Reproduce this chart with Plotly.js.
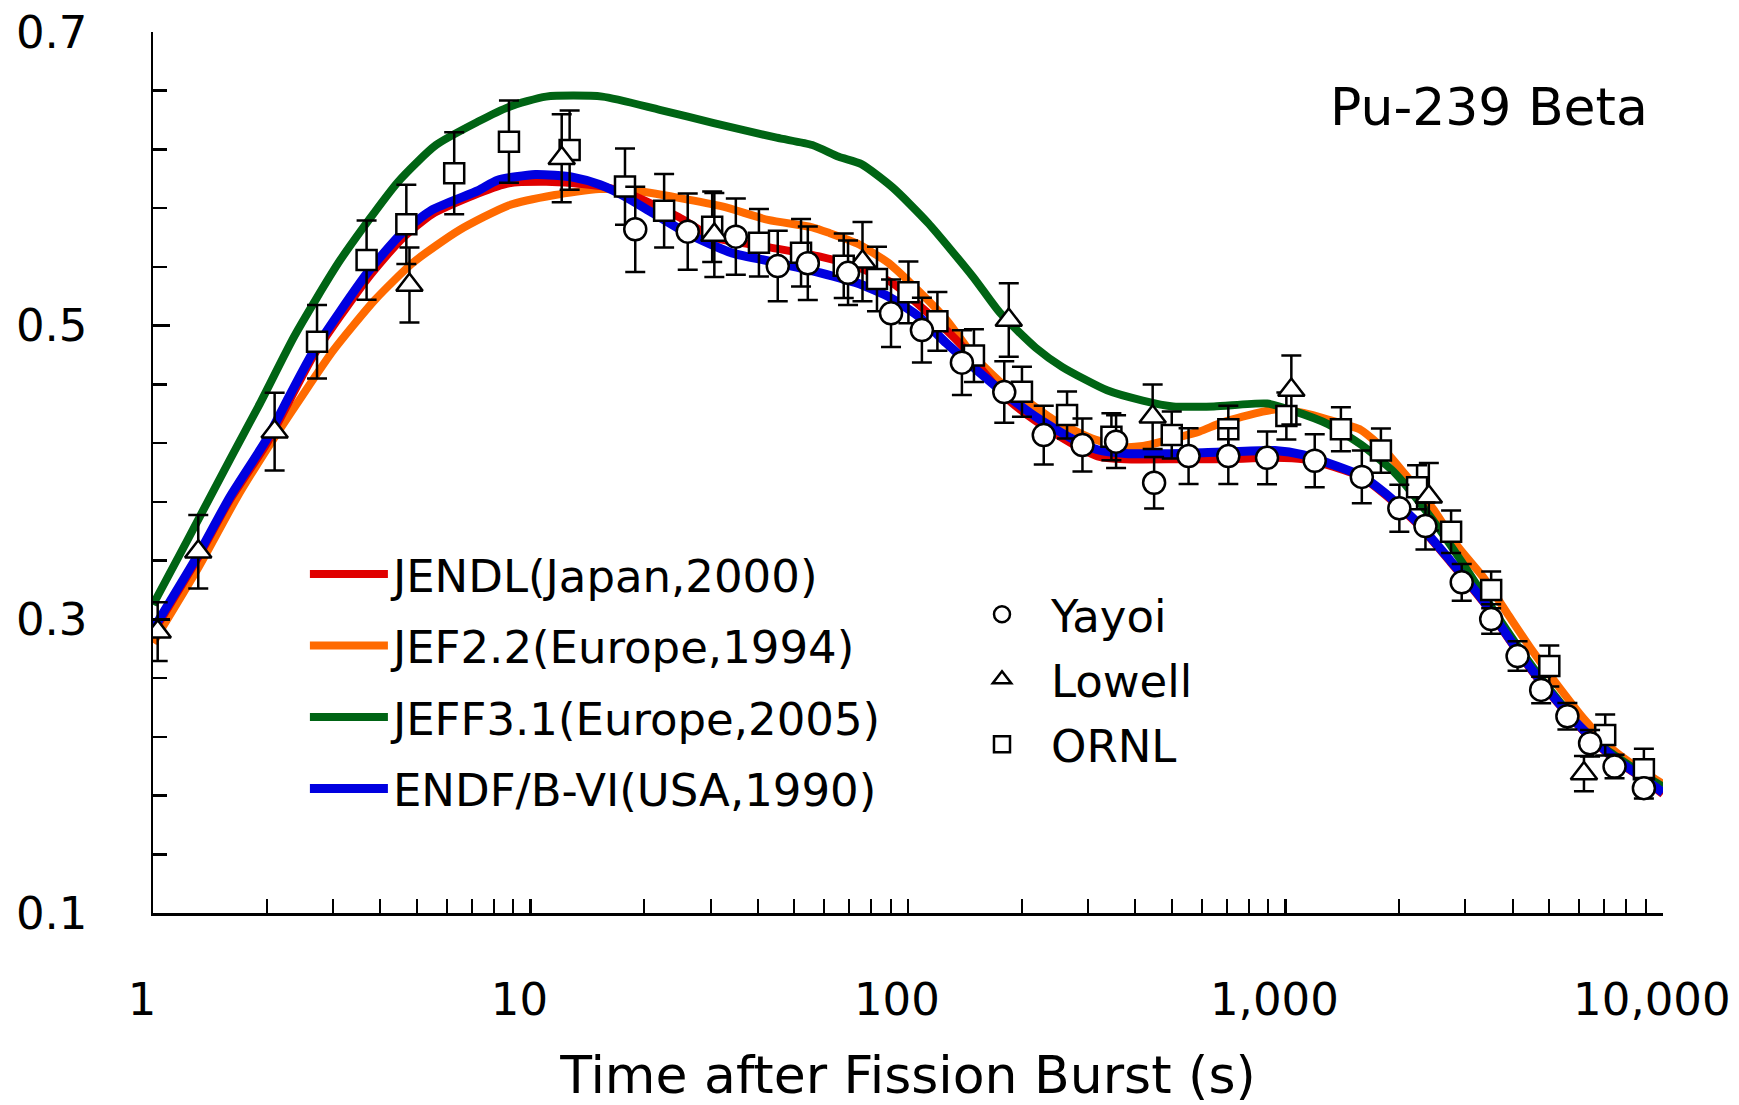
<!DOCTYPE html>
<html><head><meta charset="utf-8">
<script src="https://cdn.plot.ly/plotly-3.0.1.min.js"></script>
<style>html,body{margin:0;padding:0;background:#fff;} #chart{width:1739px;height:1105px;}</style>
</head><body><div id="chart"></div>
<script>
const FONT = 'DejaVu Sans, sans-serif';

// ---- Calculated curves (time s, beta decay heat ratio) ----
const jendlT = [1, 1.324, 1.596, 2.016, 2.67, 3.70, 4.56, 5.50, 7.27, 8.77, 11, 13, 15.3, 17.8, 24.7, 30.6, 42.6, 58.6, 73.3, 91, 113, 140, 180, 218, 270, 318, 376, 530, 679, 938, 1117, 1297, 1585, 1835, 2244, 2735, 3336, 4068, 4956, 6050, 7395, 8790, 10000];
const jendlV = [0.291, 0.343, 0.381, 0.421, 0.480, 0.532, 0.559, 0.576, 0.590, 0.597, 0.598, 0.597, 0.595, 0.591, 0.574, 0.560, 0.5535, 0.547, 0.540, 0.529, 0.5086, 0.4855, 0.452, 0.435, 0.420, 0.411, 0.409, 0.409, 0.409, 0.410, 0.409, 0.405, 0.397, 0.385, 0.3646, 0.339, 0.312, 0.280, 0.251, 0.226, 0.205, 0.192, 0.181];

const jef22T = [1, 1.324, 1.669, 2.016, 2.48, 3.0, 3.87, 4.89, 6.47, 8.77, 11.6, 15.2, 18.8, 24.7, 32.4, 42.6, 55.8, 62.1, 73.3, 88.5, 101.6, 126.5, 148.7, 175, 206, 243, 302, 366, 419, 521, 593, 679, 871, 961, 1117, 1297, 1585, 1835, 2134, 2473, 2875, 3336, 3872, 4500, 5210, 6220, 7395, 8790, 10000];
const jef22V = [0.284, 0.336, 0.383, 0.417, 0.452, 0.483, 0.5175, 0.543, 0.565, 0.582, 0.589, 0.593, 0.592, 0.587, 0.581, 0.572, 0.567, 0.563, 0.556, 0.543, 0.529, 0.504, 0.480, 0.462, 0.449, 0.436, 0.424, 0.4175, 0.418, 0.424, 0.428, 0.434, 0.4415, 0.443, 0.4405, 0.436, 0.429, 0.415, 0.395, 0.3745, 0.349, 0.329, 0.304, 0.279, 0.2566, 0.2314, 0.211, 0.197, 0.188];

const jeff31T = [1, 1.234, 1.6, 1.92, 2.37, 3.14, 4.46, 5.62, 7.27, 8.77, 11, 15.5, 22, 30.6, 44.9, 55.8, 65.6, 75.3, 91.2, 113, 149, 175, 218, 256, 337, 419, 504, 647, 894, 1050, 1297, 1585, 1928, 2355, 2875, 3418, 4068, 4722, 5483, 6368, 7395, 8790, 10000];
const jeff31V = [0.310, 0.354, 0.409, 0.447, 0.493, 0.545, 0.598, 0.623, 0.639, 0.649, 0.656, 0.656, 0.647, 0.638, 0.628, 0.623, 0.615, 0.610, 0.594, 0.570, 0.533, 0.509, 0.485, 0.472, 0.456, 0.449, 0.445, 0.445, 0.447, 0.442, 0.433, 0.419, 0.401, 0.374, 0.3425, 0.313, 0.284, 0.261, 0.240, 0.220, 0.208, 0.195, 0.186];

const endfT = [1, 1.324, 1.596, 2.016, 2.265, 2.67, 3.70, 4.56, 5.50, 7.27, 8.18, 10.3, 13.0, 15.3, 17.8, 21.0, 26.0, 34.2, 44.9, 58.6, 73.3, 88.5, 107, 126.5, 148.7, 180, 218, 270, 318, 376, 530, 679, 938, 1117, 1297, 1585, 1835, 2244, 2735, 3336, 4068, 4956, 6050, 7395, 8790, 10000];
const endfV = [0.293, 0.345, 0.383, 0.424, 0.449, 0.483, 0.536, 0.563, 0.579, 0.592, 0.599, 0.603, 0.601, 0.596, 0.588, 0.577, 0.563, 0.5495, 0.543, 0.536, 0.529, 0.520, 0.506, 0.488, 0.472, 0.454, 0.438, 0.4235, 0.4155, 0.413, 0.413, 0.414, 0.415, 0.412, 0.4065, 0.398, 0.386, 0.3656, 0.340, 0.313, 0.281, 0.252, 0.2267, 0.206, 0.1926, 0.182];

// ---- Measurements ----
const yayoiT = [18.95, 26.1, 35.0, 45.2, 54.3, 69.4, 90.2, 108.9, 139, 180, 229, 290, 356, 449, 554, 706, 894, 1196, 1594, 2004, 2350, 2932, 3509, 4122, 4760, 5586, 6415, 7448, 8908];
const yayoiV = [0.5656, 0.564, 0.5606, 0.5406, 0.5425, 0.536, 0.5084, 0.497, 0.4748, 0.4548, 0.4255, 0.4187, 0.421, 0.393, 0.4112, 0.4112, 0.410, 0.408, 0.397, 0.3756, 0.3635, 0.3252, 0.3002, 0.275, 0.2519, 0.234, 0.2156, 0.1997, 0.185];
const yayoiE = [0.029, 0.026, 0.026, 0.024, 0.025, 0.022, 0.023, 0.022, 0.022, 0.021, 0.020, 0.018, 0.018, 0.0175, 0.019, 0.019, 0.018, 0.018, 0.018, 0.016, 0.016, 0.0125, 0.010, 0.010, 0.009, 0.009, 0.009, 0.008, 0.007];

const lowellT = [1.029, 1.318, 2.10, 4.78, 12.1, 30.7, 75.8, 185, 445, 1037, 2399, 6180];
const lowellV = [0.2916, 0.346, 0.4278, 0.5277, 0.614, 0.5618, 0.5436, 0.5039, 0.438, 0.4562, 0.3835, 0.195];
const lowellE = [0.020, 0.025, 0.0265, 0.0255, 0.030, 0.0286, 0.027, 0.025, 0.022, 0.0235, 0.023, 0.012];

const ornlT = [2.72, 3.68, 4.69, 6.28, 8.77, 12.7, 17.8, 22.6, 30.3, 40.3, 52.1, 67.6, 82.8, 100.3, 119.7, 149.6, 200.5, 264, 346, 500, 706, 1006, 1403, 1791, 2233, 2748, 3509, 5003, 7035, 8908];
const ornlV = [0.489, 0.5447, 0.569, 0.6038, 0.6253, 0.6196, 0.5947, 0.5783, 0.5674, 0.5565, 0.5497, 0.5408, 0.5318, 0.5227, 0.503, 0.4796, 0.455, 0.4392, 0.4244, 0.4255, 0.4294, 0.4385, 0.4294, 0.4149, 0.390, 0.3597, 0.320, 0.2682, 0.2212, 0.1979];
const ornlE = [0.025, 0.027, 0.027, 0.028, 0.028, 0.027, 0.026, 0.025, 0.024, 0.023, 0.023, 0.022, 0.022, 0.021, 0.020, 0.018, 0.017, 0.016, 0.016, 0.016, 0.016, 0.016, 0.015, 0.015, 0.015, 0.0145, 0.0125, 0.014, 0.014, 0.014];

// ---- Axis labels ----
const xTickVals = [1, 10, 100, 1000, 10000];
const xTickText = ['1', '10', '100', '1,000', '10,000'];
const yTickVals = [0.1, 0.3, 0.5, 0.7];
const yTickText = ['0.1', '0.3', '0.5', '0.7'];

const xMinor = [];
for (let d = 1; d < 10000; d *= 10) for (let k = 2; k <= 9; k++) xMinor.push(d * k);

function curve(name, x, y, color, width, rank) {
  return {type: 'scatter', mode: 'lines', name: name, x: x, y: y,
    line: {color: color, width: width, shape: 'spline', smoothing: 0.6},
    legend: 'legend', legendgroup: name, legendrank: rank, hoverinfo: 'skip'};
}
function meas(name, x, y, e, symbol, size, rank) {
  return {type: 'scatter', mode: 'markers', name: name, x: x, y: y,
    error_y: {type: 'data', array: e, visible: true, color: '#000', thickness: 2.5, width: 10},
    marker: {symbol: symbol, size: size, color: '#fff', line: {color: '#000', width: 2.5}},
    legend: 'legend2', legendgroup: name, legendrank: rank, hoverinfo: 'skip'};
}

const traces = [
  curve('JEF2.2(Europe,1994)', jef22T, jef22V, '#ff6a00', 8, 2),
  curve('JEFF3.1(Europe,2005)', jeff31T, jeff31V, '#006414', 8, 3),
  curve('JENDL(Japan,2000)', jendlT, jendlV, '#e00000', 8, 1),
  curve('ENDF/B-VI(USA,1990)', endfT, endfV, '#0000e0', 9, 4),
  meas('ORNL', ornlT, ornlV, ornlE, 'square', 20, 3),
  meas('Lowell', lowellT, lowellV, lowellE, 'triangle-up', 23, 2),
  meas('Yayoi', yayoiT, yayoiV, yayoiE, 'circle', 22, 1)
];

const layout = {
  width: 1739, height: 1105,
  margin: {l: 153, r: 76, t: 32, b: 192},
  paper_bgcolor: '#fff', plot_bgcolor: '#fff',
  font: {family: FONT, size: 45, color: '#000'},
  showlegend: true,
  xaxis: {
    type: 'log', range: [0, 4.0004], showgrid: false, zeroline: false,
    showline: true, linecolor: '#000', linewidth: 2.5,
    tickmode: 'array', tickvals: xTickVals, ticktext: xTickText,
    ticks: 'inside', ticklen: 14, tickwidth: 2.5, tickcolor: '#000',
    ticklabelstandoff: 45, ticklabelshift: -11, ticklabeloverflow: 'allow',
    tickfont: {family: FONT, size: 45, color: '#000'},
    minor: {tickmode: 'array', tickvals: xMinor, ticks: 'inside', ticklen: 14, tickwidth: 2, tickcolor: '#000', showgrid: false},
    title: {text: 'Time after Fission Burst (s)', font: {family: FONT, size: 52, color: '#000'}, standoff: 33}
  },
  yaxis: {
    range: [0.1, 0.7], showgrid: false, zeroline: false,
    showline: true, linecolor: '#000', linewidth: 2.5,
    tickmode: 'array', tickvals: yTickVals, ticktext: yTickText,
    ticks: 'inside', ticklen: 17, tickwidth: 2.5, tickcolor: '#000',
    ticklabelstandoff: 54, ticklabeloverflow: 'allow',
    tickfont: {family: FONT, size: 45, color: '#000'},
    minor: {tick0: 0.1, dtick: 0.04, ticks: 'inside', ticklen: 14, tickwidth: 2.5, tickcolor: '#000', showgrid: false}
  },
  legend: {
    x: 0.1006, y: 0.4253, xanchor: 'left', yanchor: 'top',
    bgcolor: 'rgba(0,0,0,0)', borderwidth: 0,
    font: {family: FONT, size: 45, color: '#000'},
    itemwidth: 78, tracegroupgap: 10, traceorder: 'grouped'
  },
  legend2: {
    x: 0.5298, y: 0.3796, xanchor: 'left', yanchor: 'top',
    bgcolor: 'rgba(0,0,0,0)', borderwidth: 0,
    font: {family: FONT, size: 45, color: '#000'},
    itemwidth: 88, tracegroupgap: 3.5, traceorder: 'grouped'
  },
  annotations: [{
    text: 'Pu-239 Beta', xref: 'paper', yref: 'paper', x: 0.8848, y: 0.9149,
    xanchor: 'center', yanchor: 'middle', showarrow: false,
    font: {family: FONT, size: 52, color: '#000'}
  }]
};

Plotly.newPlot('chart', traces, layout, {displayModeBar: false, staticPlot: true});
</script></body></html>
